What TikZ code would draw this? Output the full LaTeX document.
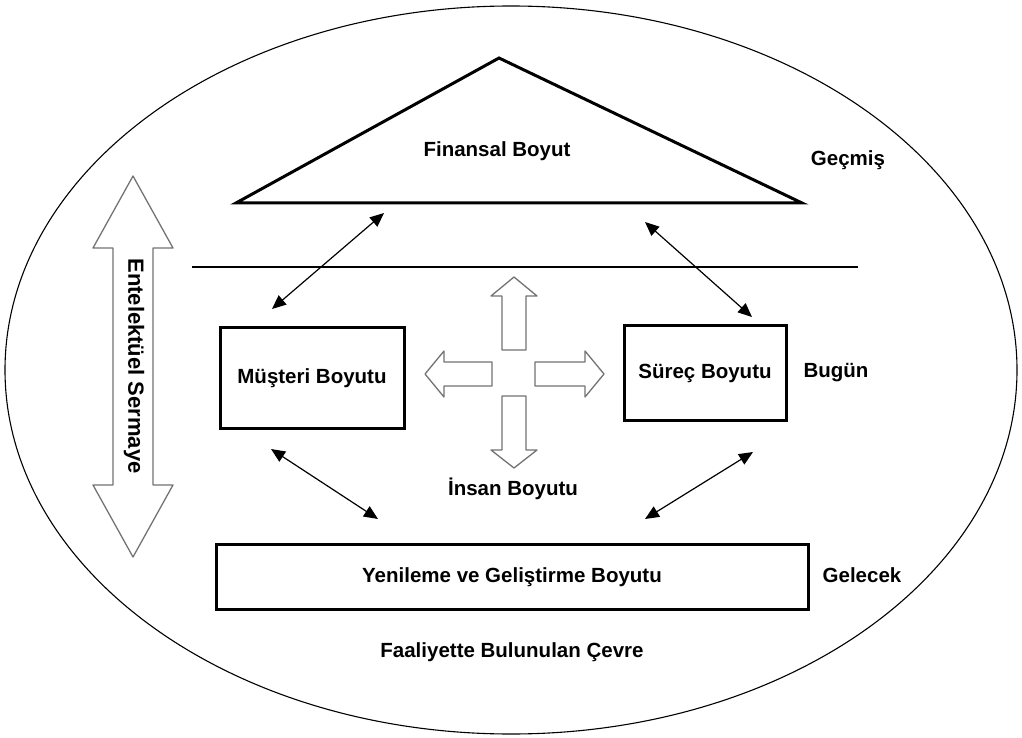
\documentclass[tikz,border=0pt]{standalone}
\usepackage{fontspec}
\setmainfont{Liberation Sans}
\usetikzlibrary{arrows.meta,shapes.geometric}

\begin{document}
\begin{tikzpicture}[
  x=1pt, y=-1pt,
  font=\bfseries\fontsize{20.5}{24}\selectfont,
  box/.style={draw, line width=3pt, inner sep=0pt},
  link/.style={{Triangle[length=14pt,width=12pt]}-{Triangle[length=14pt,width=12pt]}, line width=1.2pt},
  blk/.style={draw=black!55, line width=1.3pt, fill=white, line join=round},
  lbl/.style={anchor=center}
]
\useasboundingbox[fill=white] (0,0) rectangle (1022,738);

\node[draw, ellipse, line width=1.1pt, minimum width=1012pt, minimum height=728pt] (env) at (511,370) {};

% financial triangle
\draw[line width=3pt, line join=miter] (236,203) -- (499,58) -- (802,203) -- cycle;
\node[lbl] (fin) at (497,151) {Finansal Boyut};
\node[lbl] (past) at (848,160) {Geçmiş};

\draw[line width=1.5pt] (192,267) -- (858,267);

% today
\node[box, minimum width=184pt, minimum height=101pt] (cust) at (312,378) {Müşteri Boyutu};
\node[box, minimum width=162pt, minimum height=95pt] (proc) at (705,373) {Süreç Boyutu};
\node[lbl] (today) at (836,373) {Bugün};

% people arrows
\draw[blk] (514,277) -- (537,296) -- (526,296) -- (526,350) -- (502,350) -- (502,296) -- (491,296) -- cycle;
\draw[blk] (502,396) -- (526,396) -- (526,450) -- (537,450) -- (514,468) -- (491,450) -- (502,450) -- cycle;
\draw[blk] (425,374) -- (444,351) -- (444,362) -- (492,362) -- (492,386) -- (444,386) -- (444,397) -- cycle;
\draw[blk] (535,362) -- (585,362) -- (585,351) -- (604,374) -- (585,397) -- (585,386) -- (535,386) -- cycle;
\node[lbl] (ppl) at (513,489) {İnsan Boyutu};

% future
\node[box, minimum width=592pt, minimum height=65pt] (renew) at (512,577) {Yenileme ve Geliştirme Boyutu};
\node[lbl] (fut) at (862,575) {Gelecek};
\node[lbl] (envtxt) at (512,652) {Faaliyette Bulunulan Çevre};

% intellectual capital
\draw[blk] (133,176) -- (173,248) -- (153,248) -- (153,485) -- (173,485) -- (133,557)
  -- (93,485) -- (113,485) -- (113,248) -- (93,248) -- cycle;
\node[lbl, rotate=-90, font=\bfseries\fontsize{22}{26}\selectfont] (cap) at (134,366) {Entelektüel Sermaye};

% links
\coordinate (finL) at (384,213);
\coordinate (finR) at (645,222);
\coordinate (custT) at (272,309);
\coordinate (procT) at (752,317);
\coordinate (custB) at (271,449);
\coordinate (procB) at (753,452);
\coordinate (renL) at (378,519);
\coordinate (renR) at (645,519);
\draw[link] (finL) -- (custT);
\draw[link] (finR) -- (procT);
\draw[link] (custB) -- (renL);
\draw[link] (procB) -- (renR);
\end{tikzpicture}
\end{document}
